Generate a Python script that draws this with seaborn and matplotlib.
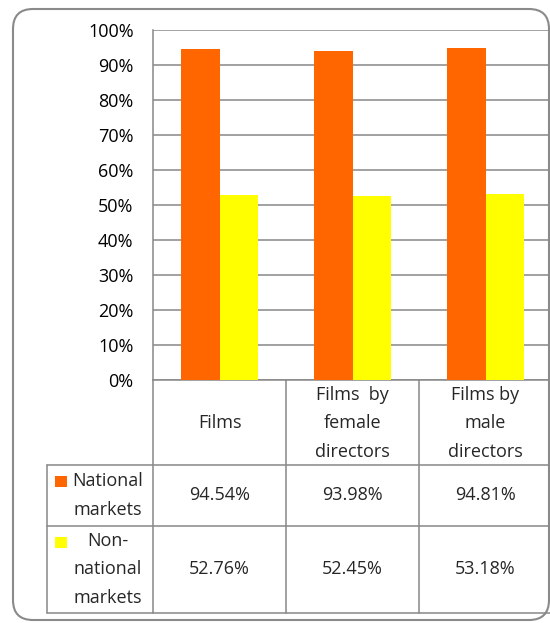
import matplotlib
matplotlib.use("Agg")
import matplotlib.pyplot as plt
from matplotlib.patches import FancyBboxPatch, Rectangle
import seaborn as sns
import pandas as pd

# Share of admissions by market type
groups = ["Films", "Films  by\nfemale\ndirectors", "Films by\nmale\ndirectors"]
markets = ["National\nmarkets", "Non-\nnational\nmarkets"]
national = [94.54, 93.98, 94.81]
non_national = [52.76, 52.45, 53.18]
y_ticks = [0, 10, 20, 30, 40, 50, 60, 70, 80, 90, 100]
colors = ["#FF6600", "#FFFF00"]

df = pd.DataFrame({
    "group": groups * 2,
    "market": [markets[0]] * 3 + [markets[1]] * 3,
    "share": national + non_national,
})

sns.set_style("white")
plt.rcParams["font.family"] = ["Open Sans", "DejaVu Sans"]
FS = 13
GRID = "#888888"

W, H = 550, 623
fig = plt.figure(figsize=(W / 100, H / 100), dpi=100)

# plot area in pixel layout
px_left, px_right, px_top, px_bottom = 153, 552, 30, 380
ax = fig.add_axes([px_left / W, 1 - px_bottom / H,
                   (px_right - px_left) / W, (px_bottom - px_top) / H])
sns.barplot(data=df, x="group", y="share", hue="market", hue_order=markets,
            order=groups, palette=colors, saturation=1, width=0.58,
            linewidth=0, legend=False, ax=ax, zorder=3)
ax.set_ylim(0, 100)
ax.set_xlim(-0.5, 2.5)
ax.set_yticks(y_ticks)
ax.set_yticklabels([f"{t}%" for t in y_ticks], fontsize=FS, color="black")
ax.set_xticks([])
ax.set_xlabel("")
ax.set_ylabel("")
ax.tick_params(axis="y", length=0, pad=14)
ax.yaxis.grid(True, color=GRID, linewidth=1.1, zorder=0)
ax.set_axisbelow(True)
for side in ["top", "right"]:
    ax.spines[side].set_visible(False)
for side in ["left", "bottom"]:
    ax.spines[side].set_color(GRID)
    ax.spines[side].set_linewidth(1.1)

# overlay in pixel coordinates for the data table and frame
ov = fig.add_axes([0, 0, 1, 1], facecolor="none")
ov.set_xlim(0, W)
ov.set_ylim(H, 0)
ov.axis("off")

frame = FancyBboxPatch((13, 9), 536, 611,
                       boxstyle="round,pad=0,rounding_size=20",
                       facecolor="none", edgecolor="#8a8a8a", linewidth=1.5)
ov.add_patch(frame)

col_x = [153, 286, 419, 552]
row_y = [380, 465, 526, 613]
lw = 1.1
# vertical lines of the table
for x in col_x[:3]:
    ov.plot([x, x], [row_y[0], row_y[3]], color=GRID, lw=lw)
ov.plot([47, 47], [row_y[1], row_y[3]], color=GRID, lw=lw)
# horizontal lines
for y in row_y[1:]:
    ov.plot([47, 552], [y, y], color=GRID, lw=lw)

LS = 1.72
for i, g in enumerate(groups):
    cx = (col_x[i] + col_x[i + 1]) / 2
    ov.text(cx, (row_y[0] + row_y[1]) / 2 + 1, g, ha="center", va="center",
            fontsize=FS, linespacing=LS, multialignment="center")

series = [national, non_national]
for r, (label, vals, col) in enumerate(zip(markets, series, colors)):
    y0, y1 = row_y[r + 1], row_y[r + 2]
    cy = (y0 + y1) / 2
    ov.text(108, cy, label, ha="center", va="center", fontsize=FS,
            linespacing=LS, multialignment="center")
    sq_y = y0 + 11
    ov.add_patch(Rectangle((55, sq_y), 12, 11, facecolor=col, edgecolor="none"))
    for i, v in enumerate(vals):
        cx = (col_x[i] + col_x[i + 1]) / 2
        ov.text(cx, cy, f"{v:.2f}%", ha="center", va="center", fontsize=FS)

fig.savefig("out.png", dpi=100)
